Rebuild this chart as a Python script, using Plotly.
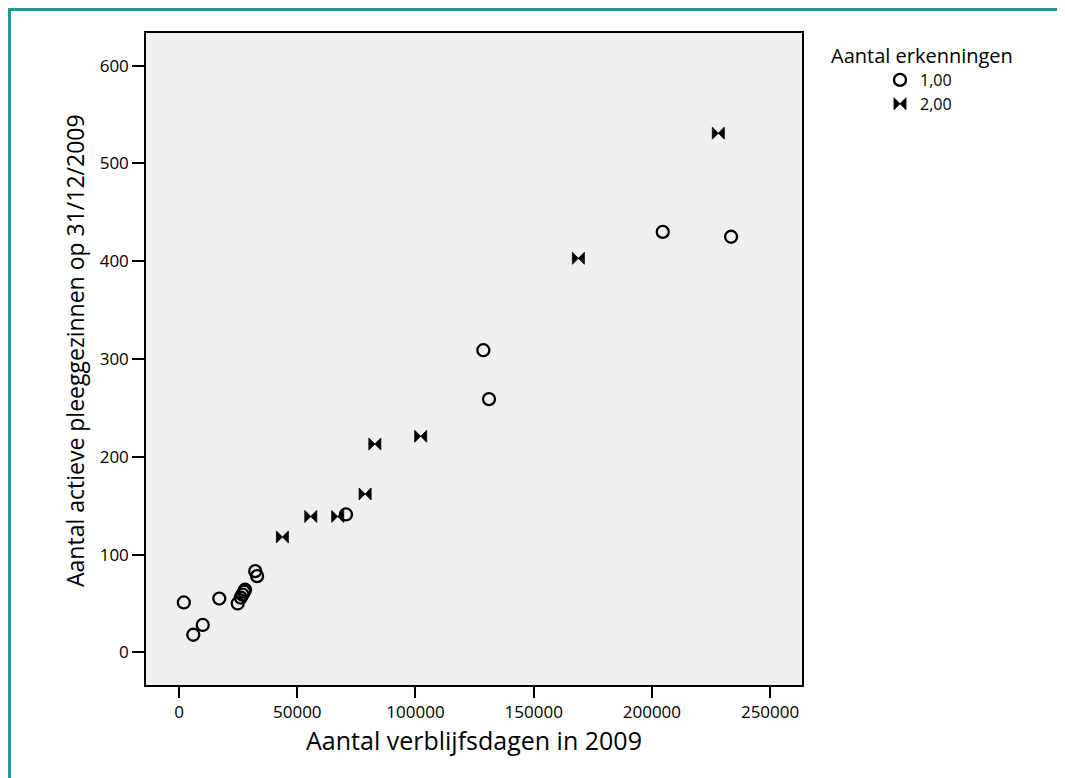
import plotly.graph_objects as go

# Aantal erkenningen = 1,00
x_one = [2000, 6000, 10000, 17000, 24800, 26100, 26800, 27500, 27900, 32200, 33000, 70600, 128700, 131100, 204600, 233500]
y_one = [51, 18, 28, 55, 50, 56, 59, 62, 64, 83, 78, 141, 309, 259, 430, 425]

# Aantal erkenningen = 2,00
x_two = [43700, 55700, 67100, 78700, 82800, 102200, 168900, 228100]
y_two = [118, 139, 139, 162, 213, 221, 403, 531]

x_ticks = [0, 50000, 100000, 150000, 200000, 250000]
y_ticks = [0, 100, 200, 300, 400, 500, 600]

legend_title = "Aantal erkenningen"
series_names = ["1,00", "2,00"]
x_title = "Aantal verblijfsdagen in 2009"
y_title = "Aantal actieve pleeggezinnen op 31/12/2009"

FONT = "Open Sans"
OFF = 8  # page body margin
W, H = 1065 - OFF, 778 - OFF
# plot area in screen pixels
L, R, T, B = 146, 802, 33, 685

fig = go.Figure()
fig.add_trace(go.Scatter(
    x=x_one, y=y_one, mode="markers", name=series_names[0],
    marker=dict(symbol="circle-open", size=12, color="black", line=dict(width=2.3, color="black")),
))
fig.add_trace(go.Scatter(
    x=x_two, y=y_two, mode="markers", name=series_names[1],
    marker=dict(symbol="bowtie", size=12, color="black", line=dict(width=0.8, color="black")),
))

def px_x(p):
    return (p - L) / (R - L)

def px_y(p):
    return (B - p) / (B - T)

fig.update_layout(
    width=W, height=H,
    margin=dict(l=L - OFF, r=W - (R - OFF), t=T - OFF, b=H - (B - OFF)),
    paper_bgcolor="white",
    plot_bgcolor="#eeefef",
    font=dict(family=FONT, color="black", size=15),
    showlegend=True,
    legend=dict(
        x=px_x(880), y=px_y(63), xanchor="left", yanchor="top",
        font=dict(family=FONT, size=16, color="black"),
        bgcolor="rgba(0,0,0,0)", tracegroupgap=0, itemwidth=30,
    ),
    xaxis=dict(
        range=[-14000, 263500], tickvals=x_ticks, tickformat="d",
        showgrid=False, zeroline=False,
        showline=True, mirror=True, linecolor="black", linewidth=1.5,
        ticks="outside", ticklen=11, tickwidth=2, tickcolor="black",
        tickfont=dict(family=FONT, size=17),
        title=dict(text=x_title, font=dict(family=FONT, size=25), standoff=10),
    ),
    yaxis=dict(
        range=[-33.4, 633.4], tickvals=y_ticks, tickformat="d",
        showgrid=False, zeroline=False,
        showline=True, mirror=True, linecolor="black", linewidth=1.5,
        ticks="outside", ticklen=12, tickwidth=2, tickcolor="black",
        tickfont=dict(family=FONT, size=17),
    ),
    annotations=[
        dict(
            text=legend_title, xref="paper", yref="paper",
            x=px_x(829), y=px_y(40), xanchor="left", yanchor="top",
            showarrow=False, font=dict(family=FONT, size=20, color="black"),
        ),
        dict(
            text=y_title, xref="paper", yref="paper", textangle=-90,
            x=px_x(75), y=px_y(351), xanchor="center", yanchor="middle",
            showarrow=False, font=dict(family=FONT, size=23, color="black"),
        ),
    ],
    shapes=[dict(
        type="rect", xref="paper", yref="paper",
        x0=px_x(OFF + 1.5), y0=px_y(820), x1=px_x(1100), y1=px_y(OFF + 1.5),
        line=dict(color="#1e9a93", width=3), fillcolor="rgba(0,0,0,0)",
        layer="below",
    )],
)

fig.write_html("out.html")
